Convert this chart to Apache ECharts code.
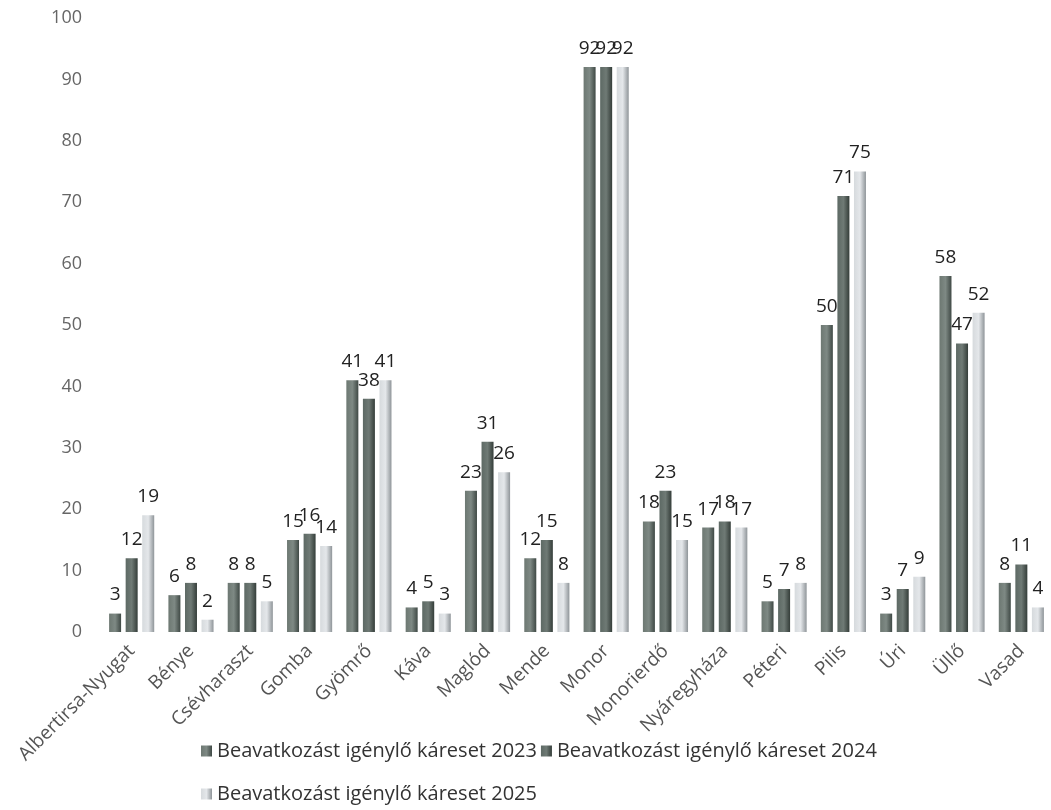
<!DOCTYPE html>
<html>
<head>
<meta charset="utf-8">
<script src="https://cdn.jsdelivr.net/npm/echarts@6/dist/echarts.min.js"></script>
<style>html,body{margin:0;padding:0;background:#fff}#c{width:1051px;height:810px}</style>
</head>
<body>
<div id="c"></div>
<script>
const categories = ['Albertirsa-Nyugat','Bénye','Csévharaszt','Gomba','Gyömrő','Káva','Maglód','Mende','Monor','Monorierdő','Nyáregyháza','Péteri','Pilis','Úri','Üllő','Vasad'];
const s2023 = [3,6,8,15,41,4,23,12,92,18,17,5,50,3,58,8];
const s2024 = [12,8,8,16,38,5,31,15,92,23,18,7,71,7,47,11];
const s2025 = [19,2,5,14,41,3,26,8,92,15,17,8,75,9,52,4];
const names = ['Beavatkozást igénylő káreset 2023','Beavatkozást igénylő káreset 2024','Beavatkozást igénylő káreset 2025'];
const yTicks = [0,10,20,30,40,50,60,70,80,90,100];

const font = 'Open Sans';
function grad(a,b,c){
  return new echarts.graphic.LinearGradient(0,0,1,0,[
    {offset:0,color:a},{offset:0.5,color:b},{offset:1,color:c}]);
}
const colors = [
  grad('#6d7872','#7e8984','#3f4945'),
  grad('#5d6964','#6f7a75','#343d39'),
  grad('#d6dadd','#e4e7ea','#8f9599')
];
const legendColors = ['#6f7a75','#5f6a65','#c9cdd1'];

function mk(i,data){
  return {
    name:names[i], type:'bar', data:data, barWidth:12, barGap:'38%',
    itemStyle:{color:colors[i]},
    label:{show:true,position:'top',distance:9,fontFamily:font,fontSize:19,color:'#222'}
  };
}
const legendText = {fontFamily:font,fontSize:20,color:'#333'};
const chart = echarts.init(document.getElementById('c'));
chart.setOption({
  animation:false,
  color:legendColors,
  grid:{left:102,top:18,width:961,height:614,containLabel:false},
  legend:[
    {data:[names[0],names[1]],left:196,top:736,itemWidth:11,itemHeight:11,itemGap:4,icon:'rect',
     textStyle:legendText},
    {data:[names[2]],left:196,top:779,itemWidth:11,itemHeight:11,itemGap:4,icon:'rect',
     textStyle:legendText}
  ],
  xAxis:{type:'category',data:categories,
    axisLine:{show:false},axisTick:{show:false},
    axisLabel:{rotate:45,interval:0,margin:16,fontFamily:font,fontSize:19,color:'#555'}},
  yAxis:{type:'value',min:0,max:100,interval:10,
    splitLine:{show:false},axisLine:{show:false},axisTick:{show:false},
    axisLabel:{margin:20,fontFamily:font,fontSize:18,color:'#666',
      formatter:function(v){return yTicks.indexOf(v)>=0?String(v):'';}}},
  series:[mk(0,s2023),mk(1,s2024),mk(2,s2025)]
});
</script>
</body>
</html>
